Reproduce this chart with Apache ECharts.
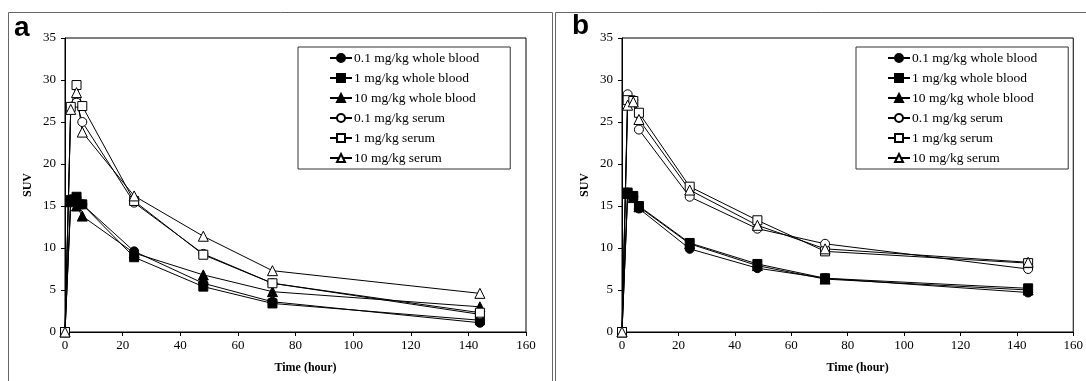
<!DOCTYPE html>
<html lang="en">

<head>
    <meta charset="UTF-8">
    <title>SUV time curves</title>
    <style>
        html, body {
            margin: 0;
            padding: 0;
            background: #fff;
        }

        #main {
            width: 1086px;
            height: 381px;
        }
    </style>
</head>

<body>
<div id="main"></div>

<script src="https://cdn.jsdelivr.net/npm/echarts@6/dist/echarts.min.js"></script>
<script>
    // time points (hour)
    var timeHours = [0, 2, 4, 6, 24, 48, 72, 144];
    var seriesNames = ['0.1 mg/kg whole blood', '1 mg/kg whole blood', '10 mg/kg whole blood',
        '0.1 mg/kg serum', '1 mg/kg serum', '10 mg/kg serum'];

    // panel a
    var aWb01 = [0, 15.8, 16.0, 15.2, 9.6, 5.8, 3.6, 1.1];
    var aWb1 = [0, 15.7, 16.1, 15.2, 8.9, 5.4, 3.4, 1.4];
    var aWb10 = [0, 15.5, 15.0, 13.8, 9.4, 6.8, 4.8, 3.0];
    var aSe01 = [0, 26.8, 27.3, 25.0, 15.4, 9.3, 5.8, 2.1];
    var aSe1 = [0, 26.8, 29.4, 26.9, 15.6, 9.2, 5.8, 2.3];
    var aSe10 = [0, 26.5, 28.5, 23.8, 16.2, 11.4, 7.3, 4.6];

    // panel b
    var bWb01 = [0, 16.6, 16.1, 14.7, 9.9, 7.6, 6.4, 4.7];
    var bWb1 = [0, 16.6, 16.2, 15.0, 10.6, 8.1, 6.4, 5.2];
    var bWb10 = [0, 16.5, 16.0, 14.9, 10.5, 7.9, 6.3, 5.0];
    var bSe01 = [0, 28.3, 27.6, 24.1, 16.1, 12.3, 10.5, 7.5];
    var bSe1 = [0, 27.6, 27.5, 26.1, 17.3, 13.3, 9.6, 8.2];
    var bSe10 = [0, 27.0, 27.4, 25.3, 16.9, 12.7, 9.9, 8.3];

    var symbols = ['circle', 'rect', 'triangle', 'circle', 'rect', 'triangle'];
    var filled = [true, true, true, false, false, false];
    var serifFont = '"Liberation Serif", "Times New Roman", serif';

    function pairs(vals) {
        var out = [];
        for (var i = 0; i < timeHours.length; i++) {
            out.push([timeHours[i], vals[i]]);
        }
        return out;
    }

    function makeSeries(idx, list) {
        var res = [];
        for (var i = 0; i < list.length; i++) {
            res.push({
                name: seriesNames[i],
                type: 'line',
                xAxisIndex: idx,
                yAxisIndex: idx,
                data: pairs(list[i]),
                symbol: symbols[i],
                symbolSize: symbols[i] === 'triangle' ? 10 : 9,
                showAllSymbol: true,
                animation: false,
                lineStyle: {color: '#000', width: 1},
                itemStyle: {
                    color: filled[i] ? '#000' : '#fff',
                    borderColor: '#000',
                    borderWidth: 1
                }
            });
        }
        return res;
    }

    function xAxisOf(idx) {
        return {
            type: 'value',
            gridIndex: idx,
            min: 0,
            max: 160,
            interval: 20,
            name: 'Time (hour)',
            nameLocation: 'middle',
            nameGap: 30,
            nameTextStyle: {
                fontFamily: serifFont, fontSize: 12, fontWeight: 'bold', color: '#000',
                padding: [0, 0, 0, 20]
            },
            axisLine: {lineStyle: {color: '#000', width: 1}},
            axisTick: {show: true, inside: false, length: 4, lineStyle: {color: '#000'}},
            axisLabel: {fontFamily: serifFont, fontSize: 13, color: '#000', margin: 7},
            splitLine: {show: false}
        };
    }

    function yAxisOf(idx) {
        return {
            type: 'value',
            gridIndex: idx,
            min: 0,
            max: 35,
            interval: 5,
            name: 'SUV',
            nameLocation: 'middle',
            nameGap: 31,
            nameRotate: 90,
            nameTextStyle: {fontFamily: serifFont, fontSize: 12, fontWeight: 'bold', color: '#000'},
            axisLine: {lineStyle: {color: '#000', width: 1}},
            axisTick: {show: true, inside: false, length: 4, lineStyle: {color: '#000'}},
            axisLabel: {fontFamily: serifFont, fontSize: 13, color: '#000', margin: 9},
            splitLine: {show: false}
        };
    }

    function legendOf(left, padL) {
        return {
            orient: 'vertical',
            left: left,
            top: 47,
            data: seriesNames,
            itemWidth: 22,
            itemHeight: 10,
            itemGap: 6,
            padding: [4, 31, 4, padL],
            borderColor: '#333',
            borderWidth: 1,
            backgroundColor: '#fff',
            selectedMode: false,
            textStyle: {fontFamily: serifFont, fontSize: 13.5, color: '#000', padding: [0, 0, 0, -3]}
        };
    }

    var chart = echarts.init(document.getElementById('main'), null, {renderer: 'canvas'});

    var option = {
        animation: false,
        backgroundColor: '#fff',
        grid: [
            {left: 65, top: 38, width: 461, height: 294, show: true, borderColor: '#000', borderWidth: 1},
            {left: 622, top: 38, width: 461, height: 294, show: true, borderColor: '#000', borderWidth: 1}
        ],
        xAxis: [xAxisOf(0), xAxisOf(1)],
        yAxis: [yAxisOf(0), yAxisOf(1)],
        legend: [legendOf(298, 31), legendOf(856, 31)],
        series: makeSeries(0, [aWb01, aWb1, aWb10, aSe01, aSe1, aSe10])
            .concat(makeSeries(1, [bWb01, bWb1, bWb10, bSe01, bSe1, bSe10])),
        graphic: [
            {
                type: 'rect', shape: {x: 8.5, y: 12.5, width: 544, height: 400}, silent: true,
                style: {fill: 'none', stroke: '#666', lineWidth: 1}
            },
            {
                type: 'rect', shape: {x: 555.5, y: 12.5, width: 540, height: 400}, silent: true,
                style: {fill: 'none', stroke: '#666', lineWidth: 1}
            },
            {
                type: 'text', left: 14, top: 14, silent: true,
                style: {text: 'a', font: 'bold 28px "Liberation Sans", Arial, sans-serif', fill: '#000'}
            },
            {
                type: 'text', left: 572, top: 12, silent: true,
                style: {text: 'b', font: 'bold 28px "Liberation Sans", Arial, sans-serif', fill: '#000'}
            }
        ]
    };

    chart.setOption(option, true);
</script>
</body>

</html>
